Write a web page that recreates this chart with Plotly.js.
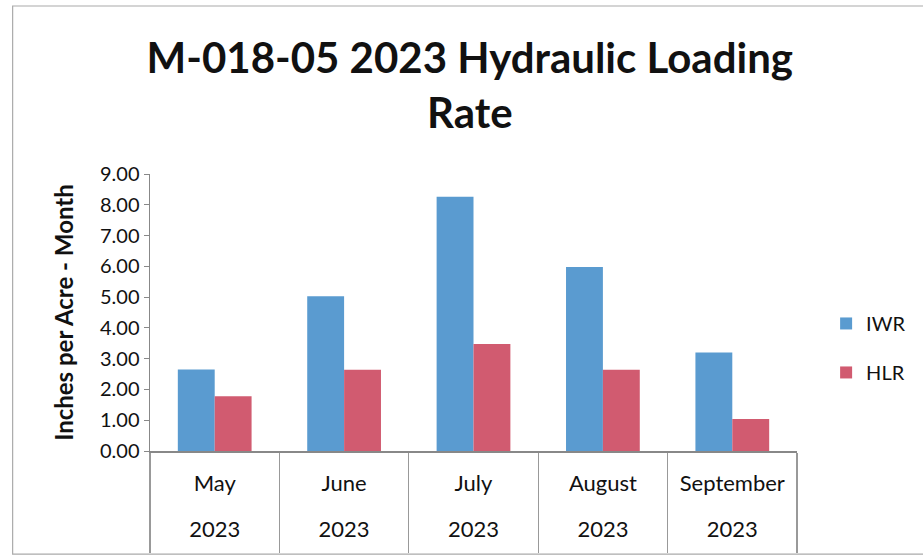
<!DOCTYPE html>
<html>
<head>
<meta charset="utf-8">
<script src="https://cdn.plot.ly/plotly-3.0.1.min.js"></script>
<style>html,body{margin:0;padding:0;background:#fff;}#chart{width:923px;height:556px;}</style>
</head>
<body>
<div id="chart"></div>
<script>
const months = ["May", "June", "July", "August", "September"];
const years = ["2023", "2023", "2023", "2023", "2023"];
const iwr = [2.65, 5.03, 8.26, 5.98, 3.2];
const hlr = [1.78, 2.64, 3.48, 2.64, 1.04];
const yTicks = [0, 1, 2, 3, 4, 5, 6, 7, 8, 9];
const yTickText = yTicks.map(v => v.toFixed(2));

const FONT = "Lato, 'Liberation Sans', sans-serif";

const traces = [
  {type: "bar", name: "IWR", x: months, y: iwr, marker: {color: "#5a9bd0"}, legendgroup: "a"},
  {type: "bar", name: "HLR", x: months, y: hlr, marker: {color: "#d15b70"}, legendgroup: "b"},
  {type: "scatter", x: months, y: iwr, xaxis: "x2", mode: "none", showlegend: false, hoverinfo: "skip"}
];

const layout = {
  width: 923, height: 556,
  paper_bgcolor: "#ffffff", plot_bgcolor: "#ffffff",
  font: {family: FONT, color: "#111"},
  margin: {l: 150, r: 123, t: 174, b: 105},
  barmode: "group", bargap: 0.43, bargroupgap: 0,
  title: {
    text: "<b>M-018-05 2023 Hydraulic Loading<br>Rate</b>",
    font: {family: FONT, size: 42, color: "#111"},
    x: 0.509, xanchor: "center", yref: "container", y: 0.868, yanchor: "top"
  },
  xaxis: {
    type: "category", categoryarray: months, range: [-0.5, 4.5],
    showline: true, linecolor: "#888", linewidth: 1.5,
    ticks: "outside", tickson: "boundaries", ticklen: 100, tickcolor: "#999", tickwidth: 1.2,
    tickfont: {family: FONT, size: 22, color: "#111"},
    ticklabelstandoff: 12,
    showgrid: false, zeroline: false, fixedrange: true
  },
  xaxis2: {
    type: "category", categoryarray: months, range: [-0.5, 4.5],
    overlaying: "x", anchor: "y", side: "bottom",
    tickmode: "array", tickvals: months, ticktext: years,
    showline: false, ticks: "", showgrid: false, zeroline: false,
    tickfont: {family: FONT, size: 22, color: "#111"},
    ticklabelstandoff: 63
  },
  yaxis: {
    range: [0, 9], tickmode: "array", tickvals: yTicks, ticktext: yTickText,
    showline: true, linecolor: "#888", linewidth: 1.5,
    ticks: "outside", ticklen: 5, tickcolor: "#888",
    tickfont: {family: FONT, size: 20, color: "#111"},
    showgrid: false, zeroline: false,
    title: {text: "<b>Inches per Acre - Month</b>", font: {family: FONT, size: 24, color: "#111"}, standoff: 19}
  },
  legend: {
    x: 1.045, xanchor: "left", y: 0.372, yanchor: "middle",
    font: {family: FONT, size: 20, color: "#111"},
    traceorder: "grouped", tracegroupgap: 20, itemwidth: 30,
    bgcolor: "rgba(0,0,0,0)"
  },
  shapes: [
    {type: "rect", xref: "paper", yref: "paper", x0: -0.2123, x1: 1.2, y0: -0.372, y1: 1.6065,
     line: {color: "#aaa", width: 1.2}, fillcolor: "rgba(0,0,0,0)", layer: "below"}
  ],
  showlegend: true
};

Plotly.newPlot("chart", traces, layout, {displayModeBar: false, staticPlot: true});
</script>
</body>
</html>
